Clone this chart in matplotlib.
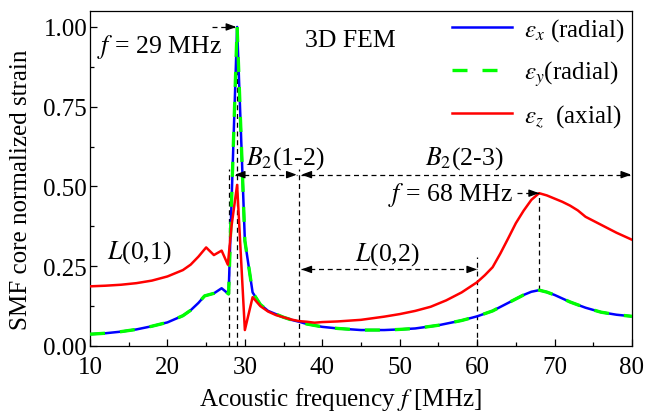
import matplotlib
matplotlib.use("Agg")
import matplotlib.pyplot as plt

plt.rcParams['font.family'] = ['Liberation Serif', 'DejaVu Serif']
plt.rcParams['mathtext.fontset'] = 'stix'

# ---- data ----
freq_x = [10, 12, 14, 16, 18, 20, 22, 23, 24, 24.8, 26, 27, 27.9, 29, 30, 31,
          32, 33, 34, 35, 36, 37, 38, 40, 42, 45, 48, 50, 52, 55, 58, 60, 62,
          64, 66, 67, 68, 69, 70, 72, 74, 76, 78, 80]
strain_x = [0.037, 0.040, 0.045, 0.052, 0.062, 0.074, 0.095, 0.112, 0.135,
            0.157, 0.165, 0.181, 0.163, 1.0, 0.33, 0.168, 0.13, 0.11, 0.10,
            0.09, 0.082, 0.076, 0.069, 0.06, 0.055, 0.05, 0.05, 0.052, 0.055,
            0.065, 0.08, 0.093, 0.11, 0.135, 0.16, 0.17, 0.175, 0.169, 0.16,
            0.138, 0.12, 0.106, 0.098, 0.093]
freq_y = list(freq_x)
strain_y = [0.037, 0.040, 0.045, 0.052, 0.062, 0.074, 0.095, 0.112, 0.135,
            0.157, 0.165, 0.181, 0.163, 1.0, 0.33, 0.168, 0.13, 0.11, 0.10,
            0.09, 0.082, 0.076, 0.069, 0.06, 0.055, 0.05, 0.05, 0.052, 0.055,
            0.065, 0.08, 0.093, 0.11, 0.135, 0.16, 0.17, 0.175, 0.169, 0.16,
            0.138, 0.12, 0.106, 0.098, 0.093]
freq_z = [10, 12, 14, 16, 18, 20, 22, 23, 24, 25, 26, 27, 27.8, 28.3, 29, 30,
          31, 32, 33, 34, 35, 36, 37, 38, 39, 40, 42, 45, 48, 50, 52, 54, 56,
          58, 60, 61, 62, 63, 64, 65, 66, 67, 68, 69, 70, 71, 72, 73, 74, 76,
          78, 80]
strain_z = [0.187, 0.189, 0.192, 0.197, 0.205, 0.218, 0.238, 0.255, 0.28,
            0.309, 0.285, 0.299, 0.255, 0.38, 0.505, 0.05, 0.153, 0.125, 0.108,
            0.097, 0.09, 0.083, 0.078, 0.076, 0.073, 0.075, 0.077, 0.082,
            0.092, 0.1, 0.11, 0.123, 0.143, 0.168, 0.2, 0.222, 0.247, 0.29,
            0.337, 0.385, 0.424, 0.458, 0.479, 0.472, 0.462, 0.452, 0.44,
            0.425, 0.405, 0.38, 0.355, 0.333]

labels = [r"$\varepsilon_x$ (radial)", r"$\varepsilon_y$(radial)",
          r"$\varepsilon_z$  (axial)"]

fig = plt.figure(figsize=(6.46, 4.14), dpi=100)
ax = fig.add_axes([90/646, 1-347/414, 542/646, 335/414])

FS = 18
AFS = 18.5

# guide lines (under curves)
guide = dict(color='black', lw=0.9, ls=(0, (4, 3)), zorder=1)
ax.plot([27.9, 27.9], [0, 0.555], **guide)
ax.plot([28.95, 28.95], [0, 1.0], **guide)
ax.plot([37, 37], [0, 0.555], **guide)
ax.plot([60, 60], [0, 0.278], **guide)
ax.plot([68, 68], [0.175, 0.479], **guide)

ax.plot(freq_x, strain_x, color='#0000ff', lw=1.8, label=labels[0], zorder=3)
ax.plot(freq_y, strain_y, color='#00ff00', lw=2.4, dashes=(4.5, 4.5),
        label=labels[1], zorder=4)
ax.plot(freq_z, strain_z, color='#ff0000', lw=1.8, label=labels[2], zorder=5)


def harrow(x0, x1, y, left_head=False, right_head=True):
    ax.plot([x0, x1], [y, y], color='black', lw=0.9, ls=(0, (4, 3)), zorder=6)
    hl = 0.9
    props = dict(arrowstyle='-|>,head_length=0.6,head_width=0.22',
                 color='black', lw=0.9, shrinkA=0, shrinkB=0)
    if right_head:
        ax.annotate('', xy=(x1, y), xytext=(x1 - hl, y), arrowprops=props,
                    zorder=7)
    if left_head:
        ax.annotate('', xy=(x0, y), xytext=(x0 + hl, y), arrowprops=props,
                    zorder=7)


harrow(25.7, 28.9, 1.0)
harrow(28.7, 36.7, 0.537, left_head=True)
harrow(37.3, 79.9, 0.537, left_head=True)
harrow(37.3, 60.0, 0.24, left_head=True)
harrow(65.1, 68.0, 0.479)

ax.text(19.0, 0.94, r"$f$ = 29 MHz", fontsize=AFS, ha='center', va='center')
ax.text(43.6, 0.96, "3D FEM", fontsize=AFS, ha='center', va='center')
ax.text(35.2, 0.59, r"$B_2$(1-2)", fontsize=AFS, ha='center', va='center')
ax.text(58.3, 0.59, r"$B_2$(2-3)", fontsize=AFS, ha='center', va='center')
ax.text(56.6, 0.476, r"$f$ = 68 MHz", fontsize=AFS, ha='center', va='center')
ax.text(48.4, 0.29, r"$L$(0,2)", fontsize=AFS, ha='center', va='center')
ax.text(16.4, 0.295, r"$L$(0,1)", fontsize=AFS, ha='center', va='center')

ax.set_xlim(10, 80)
ax.set_ylim(0, 1.05)
ax.set_xticks(range(10, 81, 10))
ax.set_yticks([0, 0.25, 0.5, 0.75, 1.0])
ax.set_xticks(range(15, 80, 10), minor=True)
ax.set_yticks([0.125, 0.375, 0.625, 0.875], minor=True)
ax.tick_params(which='both', direction='in', labelsize=FS, top=False, right=False)
ax.tick_params(which='major', length=5, width=0.9)
ax.tick_params(axis='y', which='major', pad=2)
ax.tick_params(axis='x', which='major', pad=7)
ax.tick_params(which='minor', length=3, width=0.9)
ax.yaxis.set_major_formatter(matplotlib.ticker.FormatStrFormatter('%.2f'))
for s in ax.spines.values():
    s.set_linewidth(0.9)

ax.set_xlabel(r"Acoustic frequency $f$ [MHz]", fontsize=FS)
ax.set_ylabel("SMF core normalized strain", fontsize=FS)
ax.xaxis.set_label_coords((340 - 90) / 542, -(400 - 347) / 335, transform=ax.transAxes)
ax.yaxis.set_label_coords(-(90 - 21) / 542, (347 - 190) / 335, transform=ax.transAxes)
ax.xaxis.label.set_va('center')
ax.yaxis.label.set_va('center')

ax.legend(loc='upper right', frameon=False, fontsize=FS, handlelength=2.4,
          labelspacing=0.6, borderaxespad=0.0, handletextpad=0.5,
          bbox_to_anchor=(1.0 + 3 / 542, 1.0 + 5 / 335))

fig.savefig("out.png", dpi=100)
